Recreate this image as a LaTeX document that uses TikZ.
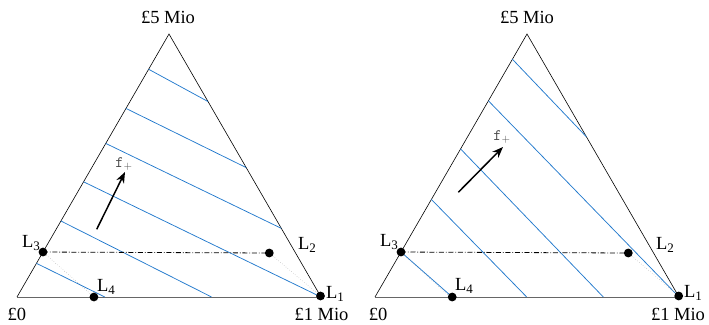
\documentclass[tikz,border=0pt]{standalone}
\usepackage{fontspec}
\newfontfamily\labfont{Liberation Serif}
\usetikzlibrary{arrows.meta,calc}
\definecolor{lineblue}{RGB}{35,122,205}
\begin{document}
\begin{tikzpicture}[x=1pt,y=-1pt,
  side/.style={line width=0.6pt,black},
  basel/.style={line width=1pt,black!60},
  level/.style={line width=0.75pt,lineblue},
  dot/.style={circle,fill=black,inner sep=0pt,minimum size=8.8pt},
  lbl/.style={font=\labfont\fontsize{18.5}{21}\selectfont,inner sep=0pt},
  llab/.style={font=\labfont\fontsize{18.5}{21}\selectfont,inner sep=0pt},
  flab/.style={font=\fontsize{16}{18}\selectfont,inner sep=0pt,text=black!70},
  conn/.style={line width=0.4pt,black!45,dotted},
  dd/.style={line width=0.8pt,dash pattern=on 5pt off 1.8pt on 0.9pt off 1.8pt},
  farrow/.style={line width=1.5pt,-{Stealth[length=11pt,width=8.5pt]}},
]
\newcommand{\Lsub}[1]{L\raisebox{-0.25ex}{\fontsize{13}{15}\selectfont #1}}
\useasboundingbox (0,0) rectangle (709,324);
% ---------- left triangle ----------
\coordinate (BLa) at (17,297);
\coordinate (BRa) at (321,297);
\coordinate (Aa) at (169,34);
\draw[side] (BLa) -- (Aa) -- (BRa);
\draw[basel] (BLa) -- (BRa);
\draw[level] ($(BLa)!0.866!(Aa)$) -- ($(BRa)!0.743!(Aa)$);
\draw[level] ($(BLa)!0.717!(Aa)$) -- ($(BRa)!0.492!(Aa)$);
\draw[level] ($(BLa)!0.584!(Aa)$) -- ($(BRa)!0.261!(Aa)$);
\draw[level] ($(BLa)!0.438!(Aa)$) -- (BRa);
\draw[level] ($(BLa)!0.289!(Aa)$) -- ($(BLa)!0.640!(BRa)$);
\draw[level] ($(BLa)!0.128!(Aa)$) -- ($(BLa)!0.289!(BRa)$);
\coordinate (p3a) at ($(BLa)!0.171!(Aa)$);
\coordinate (p4a) at ($(BLa)!0.253!(BRa)$);
\coordinate (p2a) at (269.3,253);
\coordinate (p1a) at (320.5,296);
\draw[dd] (p3a) -- (p2a);
\draw[conn] (p3a) -- (p4a);
\draw[conn] (p2a) -- (p1a);
\node[dot] (L3a) at (p3a) {};
\node[dot] (L4a) at (p4a) {};
\node[dot] (L2a) at (p2a) {};
\node[dot] (L1a) at (p1a) {};
\coordinate (fsa) at (96.7,229.3);
\coordinate (fea) at (125,172);
\draw[farrow] (fsa) -- (fea);
\node[flab] (fa) at (124,164) {\texttt{f}$_{+}$};
\node[lbl] (z0a) at (17,314) {£0};
\node[lbl] (z1a) at (321.5,314) {£1 Mio};
\node[lbl] (z5a) at (168,17) {£5 Mio};
\node[llab] (t3a) at (31,243) {\Lsub{3}};
\node[llab] (t4a) at (106,287) {\Lsub{4}};
\node[llab] (t2a) at (307,245) {\Lsub{2}};
\node[llab] (t1a) at (335,294) {\Lsub{1}};
% ---------- right triangle ----------
\coordinate (BLb) at (375,297);
\coordinate (BRb) at (679,297);
\coordinate (Ab) at (527,34);
\draw[side] (BLb) -- (Ab) -- (BRb);
\draw[basel] (BLb) -- (BRb);
\draw[level] ($(BLb)!0.904!(Ab)$) -- ($(BRb)!0.609!(Ab)$);
\draw[level] ($(BLb)!0.746!(Ab)$) -- (BRb);
\draw[level] ($(BLb)!0.563!(Ab)$) -- ($(BLb)!0.751!(BRb)$);
\draw[level] ($(BLb)!0.371!(Ab)$) -- ($(BLb)!0.499!(BRb)$);
\coordinate (p3b) at ($(BLb)!0.171!(Ab)$);
\coordinate (p4b) at ($(BLb)!0.254!(BRb)$);
\coordinate (p2b) at (628.3,253);
\coordinate (p1b) at (678.7,296);
\draw[level] (p3b) -- (p4b);
\draw[dd] (p3b) -- (p2b);
\draw[conn] ($(p3b)+(2,2)$) -- ($(p4b)+(-2,0)$);
\draw[conn] (p2b) -- (p1b);
\node[dot] (L3b) at (p3b) {};
\node[dot] (L4b) at (p4b) {};
\node[dot] (L2b) at (p2b) {};
\node[dot] (L1b) at (p1b) {};
\coordinate (fsb) at (458.3,192.3);
\coordinate (feb) at (503,147);
\draw[farrow] (fsb) -- (feb);
\node[flab] (fb) at (502,137) {\texttt{f}$_{+}$};
\node[lbl] (z0b) at (378,314) {£0};
\node[lbl] (z1b) at (678,314) {£1 Mio};
\node[lbl] (z5b) at (527,17) {£5 Mio};
\node[llab] (t3b) at (389,242) {\Lsub{3}};
\node[llab] (t4b) at (464,286) {\Lsub{4}};
\node[llab] (t2b) at (665,245) {\Lsub{2}};
\node[llab] (t1b) at (693,293) {\Lsub{1}};
\end{tikzpicture}
\end{document}
